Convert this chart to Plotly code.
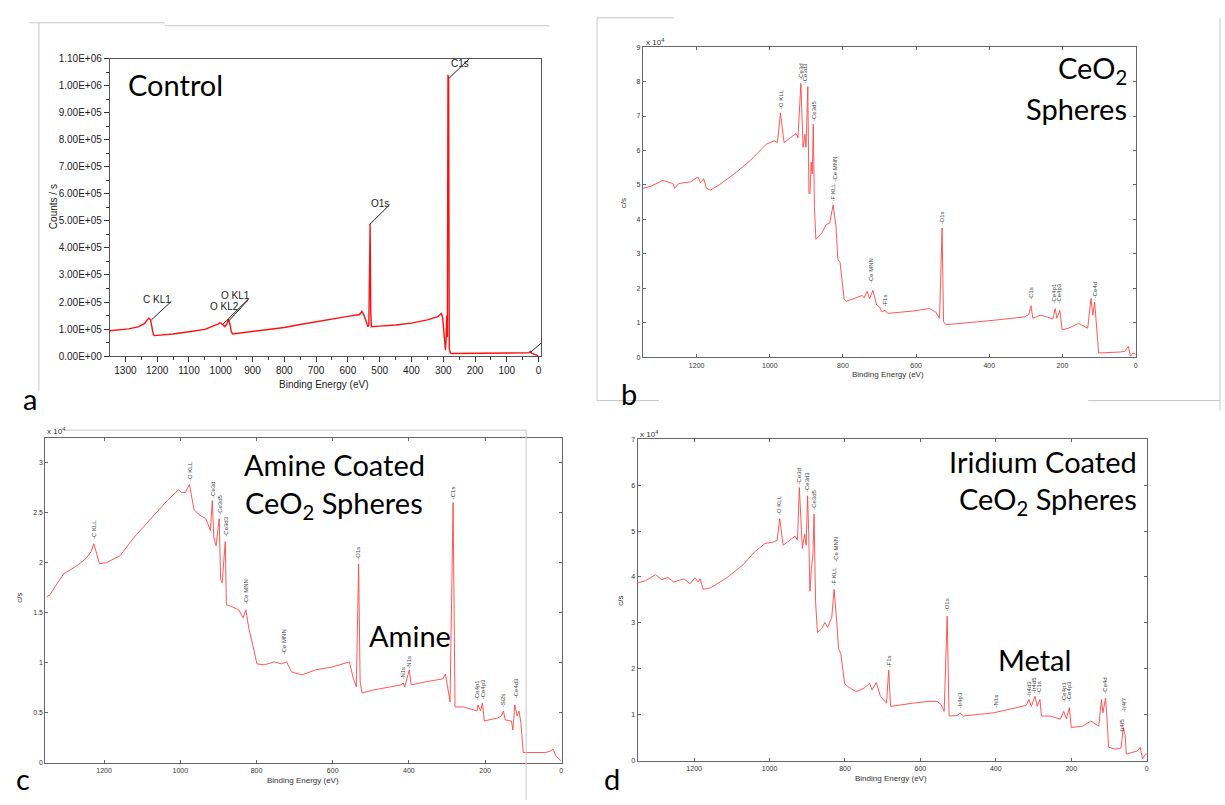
import plotly.graph_objects as go

W, H = 1225, 805
def fx(p): return p / W
def fy(p): return 1 - p / H

# ---------------- data ----------------
# Panel a: Control (counts/s)
a_be = [1349, 1320, 1290, 1260, 1239, 1232, 1226, 1221, 1216, 1212, 1208, 1150, 1100, 1050, 1009, 1003, 998, 992, 987, 981, 976, 971, 967, 963,
        920, 867, 800, 750, 699, 650, 605, 563, 556, 549, 542, 537, 534, 532, 530, 528, 526, 500, 450, 400, 350, 317, 310, 306, 302, 298,
        296, 293, 291, 289, 287, 285, 283, 281, 278, 275, 220, 150, 80, 40, 30, 26, 22, 16, 10, 5, 1]
a_cps = [94e3, 97e3, 101e3, 108e3, 121e3, 133e3, 140e3, 135e3, 100e3, 80e3, 76e3, 82e3, 90e3, 99e3, 118e3, 123e3, 121e3, 112e3, 109e3, 118e3, 137e3, 118e3, 92e3, 82e3,
         88e3, 97e3, 106e3, 117e3, 128e3, 136e3, 146e3, 154e3, 166e3, 150e3, 121e3, 109e3, 115e3, 470e3, 488e3, 160e3, 109e3, 111e3, 115e3, 122e3, 134e3, 146e3, 152e3, 158e3, 145e3, 80e3,
         36e3, 22e3, 60e3, 150e3, 70e3, 1040e3, 1020e3, 30e3, 12e3, 10e3, 10e3, 10e3, 11e3, 12e3, 13e3, 18e3, 11e3, 9e3, 7e3, 3e3, 1e3]

# Panel b: CeO2 spheres (c/s x 1e4)
b_be = [1347, 1325, 1292, 1265, 1260, 1249, 1216, 1197, 1189, 1181, 1173, 1162, 1140, 1097, 1053, 1010, 988, 979, 971, 961, 944, 928, 923, 915,
        909, 904, 901, 896, 893, 890, 887, 884, 881, 878, 874, 857, 846, 836, 827, 819, 814, 808, 797, 792, 770, 748, 742, 734, 727, 718, 708,
        700, 694, 685, 678, 607, 564, 547, 536, 529, 525, 518, 379, 302, 292, 286, 281, 259, 226, 220, 215, 207, 201, 183, 156, 131, 122, 117,
        112, 107, 101, 41, 30, 20, 14, 7, 0]
b_cps = [4.90, 4.96, 5.13, 5.04, 4.90, 5.04, 5.09, 5.23, 5.06, 5.18, 4.90, 4.85, 4.99, 5.32, 5.71, 6.18, 6.28, 6.23, 7.09, 6.23, 6.37, 6.49, 6.37, 7.95,
         6.09, 6.47, 6.09, 7.85, 4.75, 4.75, 5.66, 5.32, 6.76, 4.37, 3.42, 3.61, 3.85, 3.89, 4.42, 3.80, 2.84, 2.75, 1.70, 1.62, 1.70, 1.79, 1.72, 1.91, 1.70, 1.94, 1.51,
         1.46, 1.32, 1.36, 1.27, 1.34, 1.41, 1.32, 1.13, 3.75, 1.03, 0.94, 1.08, 1.17, 1.24, 1.49, 1.13, 1.22, 1.11, 1.41, 1.13, 1.36, 0.79, 0.84, 0.98, 0.84, 1.70, 1.22,
         1.60, 0.94, 0.12, 0.15, 0.17, 0.31, 0.03, 0.12, 0.08]

# Panel c: amine coated CeO2 spheres (c/s x 1e4)
c_be = [1351, 1342, 1329, 1306, 1275, 1248, 1234, 1227, 1221, 1212, 1194, 1158, 1122, 1077, 1032, 1004, 996, 987, 976, 964, 951, 933, 921, 916,
        912, 906, 901, 898, 894, 890, 885, 882, 879, 870, 847, 835, 828, 820, 811, 799, 780, 753, 735, 721, 708, 681, 645, 600, 556, 547, 538,
        532, 528, 523, 492, 447, 420, 415, 411, 399, 394, 357, 311, 304, 298, 292, 284, 279, 257, 230, 221, 219, 212, 207, 202, 167, 157, 152,
        147, 131, 127, 122, 116, 111, 106, 100, 41, 28, 22, 14, 5, 0]
c_cps = [1.66, 1.68, 1.76, 1.89, 1.96, 2.04, 2.11, 2.19, 2.11, 1.99, 2.00, 2.07, 2.25, 2.44, 2.63, 2.73, 2.70, 2.70, 2.78, 2.53, 2.48, 2.44, 2.32, 2.62,
         2.25, 2.17, 2.37, 2.44, 1.83, 1.80, 2.06, 2.21, 1.58, 1.57, 1.53, 1.45, 1.53, 1.34, 1.20, 0.99, 0.98, 1.01, 0.99, 1.01, 0.91, 0.88, 0.93, 0.96, 1.01, 0.86, 0.76,
         1.99, 0.81, 0.70, 0.73, 0.76, 0.78, 0.80, 0.76, 0.93, 0.78, 0.81, 0.84, 0.89, 0.75, 0.61, 2.60, 0.56, 0.56, 0.53, 0.52, 0.58, 0.52, 0.60, 0.42, 0.45, 0.47, 0.52,
         0.43, 0.42, 0.33, 0.58, 0.47, 0.52, 0.40, 0.105, 0.105, 0.12, 0.14, 0.07, 0.04, 0.02]

# Panel d: iridium coated CeO2 spheres (c/s x 1e4)
d_be = [1350, 1329, 1302, 1286, 1270, 1254, 1227, 1211, 1198, 1189, 1184, 1176, 1157, 1114, 1071, 1039, 1012, 990, 980, 973, 964, 948, 932, 926,
        921, 913, 907, 903, 899, 896, 893, 889, 885, 882, 878, 873, 862, 853, 846, 835, 829, 822, 817, 811, 801, 792, 771, 749, 735, 728, 717,
        706, 690, 684, 679, 620, 577, 556, 545, 537, 529, 524, 502, 495, 486, 406, 341, 320, 312, 306, 296, 290, 283, 279, 255, 229, 220, 213,
        205, 200, 170, 148, 127, 120, 116, 109, 105, 101, 84, 68, 62, 57, 54, 25, 17, 11, 3, 0]
d_cps = [3.87, 3.92, 4.05, 3.94, 3.99, 3.89, 3.96, 3.85, 3.98, 3.89, 3.96, 3.73, 3.76, 3.98, 4.26, 4.55, 4.73, 4.76, 4.80, 5.27, 4.69, 4.80, 4.89, 4.80,
         5.95, 4.62, 4.94, 4.69, 5.77, 4.91, 3.69, 4.19, 4.48, 5.37, 3.47, 2.79, 2.87, 3.01, 2.90, 3.12, 3.73, 3.05, 2.44, 2.33, 1.68, 1.61, 1.50, 1.58, 1.68, 1.54, 1.70,
         1.40, 1.25, 1.97, 1.18, 1.25, 1.29, 1.29, 1.22, 1.07, 3.15, 0.97, 0.98, 1.04, 0.97, 1.04, 1.15, 1.20, 1.33, 1.18, 1.40, 1.18, 1.33, 0.97, 0.97, 0.90, 1.07, 0.91,
         1.15, 0.72, 0.75, 0.86, 0.75, 1.33, 1.04, 1.36, 0.90, 0.29, 0.25, 0.27, 0.72, 0.54, 0.14, 0.21, 0.29, 0.04, 0.14, 0.14]

# Peak labels (name, BE, bottom value)
b_lab = ["-O KLL", "-Ce3d", "-Ce3d3", "-Ce3d5", "-F KLL", "-Ce MNN", "-Ce MNN", "-F1s", "-O1s", "-C1s", "-Ce4p1", "-Ce4p3", "-Ce4d"]
b_lab_be = [970, 917, 903, 879, 827, 823, 723, 685, 529, 286, 224, 210, 112]
b_lab_y = [7.14, 8.0, 7.9, 6.8, 4.45, 5.04, 2.08, 1.41, 3.78, 1.62, 1.49, 1.49, 1.64]

c_lab = ["-C KLL", "-O KLL", "-Ce3d", "-Ce3d5", "-Ce3d3", "-Ce MNN", "-Ce MNN", "-O1s", "-N1s", "-N1s", "-C1s", "-Ce4p1", "-Ce4p3", "-Si2s", "-Ce4d3"]
c_lab_be = [1227, 976, 916, 898, 880, 828, 728, 532, 415, 399, 284, 221, 207, 152, 118]
c_lab_y = [2.22, 2.80, 2.63, 2.46, 2.24, 1.57, 1.07, 2.01, 0.81, 0.92, 2.61, 0.61, 0.62, 0.54, 0.63]

d_lab = ["-O KLL", "-Ce3d", "-Ce3d3", "-Ce3d5", "-F KLL", "-Ce MNN", "-F1s", "-O1s", "-Ir4p3", "-N1s", "-Ir4d3", "-Ir4d5", "-C1s", "-Ce4p1", "-Ce4p3", "-Ce4d", "-Ir4f7", "Ir4f5"]
d_lab_be = [973, 921, 899, 882, 829, 826, 684, 529, 494, 400, 312, 298, 284, 221, 207, 111, 62, 66]
d_lab_y = [5.30, 5.98, 5.80, 5.42, 3.76, 4.28, 1.98, 3.20, 1.10, 1.12, 1.34, 1.43, 1.41, 1.24, 1.24, 1.41, 1.01, 0.60]

a_yticks = [i * 1e5 for i in range(12)]
a_yticktext = ["0.00E+00", "1.00E+05", "2.00E+05", "3.00E+05", "4.00E+05", "5.00E+05", "6.00E+05",
               "7.00E+05", "8.00E+05", "9.00E+05", "1.00E+06", "1.10E+06"]
a_xticks = list(range(0, 1400, 100))

# ---------------- figure ----------------
fig = go.Figure()
red_a = "#ff1010"
red_s = "rgba(255,70,70,0.9)"

fig.add_trace(go.Scatter(x=a_be, y=a_cps, mode="lines", line=dict(color=red_a, width=1.4), xaxis="x", yaxis="y", hoverinfo="skip"))
fig.add_trace(go.Scatter(x=b_be, y=b_cps, mode="lines", line=dict(color=red_s, width=1), xaxis="x2", yaxis="y2", hoverinfo="skip"))
fig.add_trace(go.Scatter(x=c_be, y=c_cps, mode="lines", line=dict(color=red_s, width=1), xaxis="x3", yaxis="y3", hoverinfo="skip"))
fig.add_trace(go.Scatter(x=d_be, y=d_cps, mode="lines", line=dict(color=red_s, width=1), xaxis="x4", yaxis="y4", hoverinfo="skip"))

tickf_a = dict(family="Liberation Sans, Arial", size=10, color="#222")
tickf_s = dict(family="Liberation Sans, Arial", size=7, color="#333")

def mat_axes(xdom, ydom, xr, yr, ydt, anchor_x, anchor_y):
    xa = dict(domain=xdom, range=xr, anchor=anchor_y, showgrid=False, zeroline=False,
              showline=True, linecolor="#666", linewidth=1, mirror="ticks",
              ticks="inside", ticklen=3, tickcolor="#666", tickmode="linear", tick0=0, dtick=200,
              tickfont=tickf_s, ticklabelstandoff=1)
    ya = dict(domain=ydom, range=yr, anchor=anchor_x, showgrid=False, zeroline=False,
              showline=True, linecolor="#666", linewidth=1, mirror="ticks",
              ticks="inside", ticklen=3, tickcolor="#666", tickmode="linear", tick0=0, dtick=ydt,
              tickfont=tickf_s)
    return xa, ya

xa2, ya2 = mat_axes([fx(643.9), fx(1138.2)], [fy(356), fy(41.7)], [1347, -2], [0, 9], 1, "x2", "y2")
xa3, ya3 = mat_axes([fx(45.5), fx(562.6)], [fy(767.5), fy(437.5)], [1354, -1], [0, 3.25], 0.5, "x3", "y3")
xa4, ya4 = mat_axes([fx(638.6), fx(1149.3)], [fy(765), fy(439.3)], [1350, -2], [0, 7], 1, "x4", "y4")

fig.update_layout(
    width=W, height=H, margin=dict(l=0, r=0, t=0, b=0),
    paper_bgcolor="white", plot_bgcolor="white", showlegend=False,
    xaxis=dict(domain=[fx(110), fx(542)], range=[1349, -8], anchor="y", showgrid=False, zeroline=False,
               showline=True, linecolor="#555", linewidth=1, mirror=True,
               ticks="outside", ticklen=5, tickcolor="#333", tickvals=a_xticks, tickfont=tickf_a,
               minor=dict(ticks="outside", ticklen=3, tickcolor="#333", dtick=50, tick0=0)),
    yaxis=dict(domain=[fy(355), fy(53.3)], range=[0, 1.1e6], anchor="x", showgrid=False, zeroline=False,
               showline=True, linecolor="#555", linewidth=1, mirror=True,
               ticks="outside", ticklen=5, tickcolor="#333", tickvals=a_yticks, ticktext=a_yticktext, tickfont=tickf_a,
               minor=dict(ticks="outside", ticklen=3, tickcolor="#333", dtick=5e4, tick0=0)),
    xaxis2=xa2, yaxis2=ya2, xaxis3=xa3, yaxis3=ya3, xaxis4=xa4, yaxis4=ya4,
)

ann = []
title_font = dict(family="Lato, Noto Sans", size=29, color="black")
small = dict(family="Liberation Sans, Arial", size=8, color="#333")

def paper_text(text, x, y, font, xanchor="center", yanchor="middle", angle=0):
    ann.append(dict(text=text, x=fx(x), y=fy(y), xref="paper", yref="paper", showarrow=False,
                    font=font, xanchor=xanchor, yanchor=yanchor, textangle=angle))

# Big titles
paper_text("Control", 126, 80, title_font, xanchor="left")
paper_text("CeO<sub>2</sub>", 1131, 64, title_font, xanchor="right")
paper_text("Spheres", 1131, 104, title_font, xanchor="right")
paper_text("Amine Coated", 335, 465, title_font)
paper_text("CeO<sub>2</sub> Spheres", 335, 505, title_font)
paper_text("Amine", 411, 638, title_font)
paper_text("Iridium Coated", 1141, 462, title_font, xanchor="right")
paper_text("CeO<sub>2</sub> Spheres", 1141, 501, title_font, xanchor="right")
paper_text("Metal", 1036, 663, title_font)

# Panel letters
paper_text("a", 30, 398, title_font)
paper_text("b", 630, 393, title_font)
paper_text("c", 23, 783, title_font)
paper_text("d", 613, 783, title_font)

# Axis titles
paper_text("Binding Energy (eV)", 325, 384, dict(family="Liberation Sans, Arial", size=10, color="#222"))
paper_text("Counts / s", 53, 203, dict(family="Liberation Sans, Arial", size=10, color="#222"), angle=-90)
paper_text("Binding Energy (eV)", 889, 374, small)
paper_text("Binding Energy (eV)", 303, 785, small)
paper_text("Binding Energy (eV)", 892, 783, small)
paper_text("c/s", 624, 200, small, angle=-90)
paper_text("c/s", 20, 600, small, angle=-90)
paper_text("c/s", 622, 603, small, angle=-90)
paper_text("x 10<sup>4</sup>", 645, 36, small, xanchor="left")
paper_text("x 10<sup>4</sup>", 45, 431, small, xanchor="left")
paper_text("x 10<sup>4</sup>", 639, 434, small, xanchor="left")

# Panel a peak labels
a_font = dict(family="Liberation Sans, Arial", size=10, color="#222")
for t, xb, yb in [("C KL1", 1202, 210e3), ("O KL1", 955, 223e3), ("O KL2", 988, 185e3), ("O1s", 500, 563e3), ("C1s", 248, 1.08e6)]:
    ann.append(dict(text=t, x=xb, y=yb, xref="x", yref="y", showarrow=False, font=a_font))

peak_font = dict(family="Liberation Sans, Arial", size=6, color="#444")
for labs, bes, ys, xr, yr in [(b_lab, b_lab_be, b_lab_y, "x2", "y2"), (c_lab, c_lab_be, c_lab_y, "x3", "y3"), (d_lab, d_lab_be, d_lab_y, "x4", "y4")]:
    for t, xb, yb in zip(labs, bes, ys):
        ann.append(dict(text=t, x=xb, y=yb, xref=xr, yref=yr, showarrow=False, font=peak_font,
                        textangle=-90, xanchor="center", yanchor="bottom"))

fig.update_layout(annotations=ann)

shapes = []
# panel a leader lines
for x0, y0, x1, y1 in [(1218, 134e3, 1155, 203e3), (993, 118e3, 914, 210e3), (975, 130e3, 912, 210e3),
                       (532, 486e3, 469, 559e3), (282, 1.027e6, 219, 1.098e6), (28, 12e3, -8, 48e3)]:
    shapes.append(dict(type="line", xref="x", yref="y", x0=x0, y0=y0, x1=x1, y1=y1, line=dict(color="#222", width=1)))

# screenshot frame lines
g = dict(color="#c8c8c8", width=1)
for x0, y0, x1, y1 in [(30, 17, 165, 17), (165, 20, 550, 20), (39, 17, 39, 390),
                       (598, 12, 675, 12), (598, 12, 598, 400), (598, 400, 660, 400), (1090, 400, 1222, 400), (1222, 12, 1222, 410),
                       (65, 430, 527, 430), (527, 430, 527, 805)]:
    shapes.append(dict(type="line", xref="paper", yref="paper", x0=fx(x0), y0=fy(y0), x1=fx(x1), y1=fy(y1), line=g))
fig.update_layout(shapes=shapes)

fig.write_html("out.html")
